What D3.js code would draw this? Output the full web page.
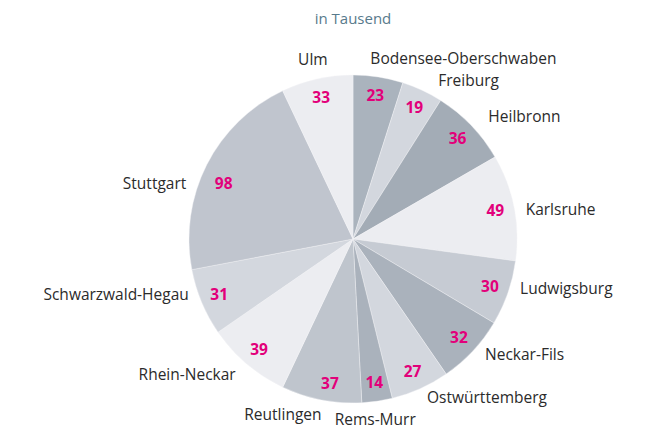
<!DOCTYPE html>
<html>
<head>
<meta charset="utf-8">
<script src="https://cdn.jsdelivr.net/npm/d3@7"></script>
<style>
  body { margin: 0; background: #fff; }
  svg { display: block; }
  text { font-family: "Open Sans", "Noto Sans", sans-serif; }
</style>
</head>
<body>
<svg id="chart" width="652" height="430"></svg>
<script>
// Data (in Tausend), clockwise from the top
var regions = ["Bodensee-Oberschwaben", "Freiburg", "Heilbronn", "Karlsruhe", "Ludwigsburg",
               "Neckar-Fils", "Ostwürttemberg", "Rems-Murr", "Reutlingen", "Rhein-Neckar",
               "Schwarzwald-Hegau", "Stuttgart", "Ulm"];
var values = [23, 19, 36, 49, 30, 32, 27, 14, 37, 39, 31, 98, 33];
var subtitle = "in Tausend";

// Slice fills, same order as regions
var fills = ["#aab3bd", "#d3d7de", "#a3acb6", "#ecedf1", "#c6cbd3", "#aab2bc", "#d3d7de",
             "#aab2bc", "#bfc5cd", "#ecedf1", "#d3d7de", "#c0c5ce", "#ecedf1"];

// Hand placement tweaks for the labels (pixels)
var nameNudge = {
    "Bodensee-Oberschwaben": [-10, -5], "Freiburg": [10, 3], "Heilbronn": [7, 1],
    "Karlsruhe": [-2, 5], "Ludwigsburg": [-1, -9], "Neckar-Fils": [2, -6],
    "Ostwürttemberg": [1, -4], "Rems-Murr": [-4, 5], "Reutlingen": [3, 1],
    "Rhein-Neckar": [-2, 0], "Schwarzwald-Hegau": [0, -13], "Stuttgart": [-8, 25],
    "Ulm": [-1, -6]
};
var centeredNames = {"Ulm": true, "Rems-Murr": true};
var valueNudge = {"Stuttgart": [0, 10], "Reutlingen": [5, 2]};

var cx = 353, cy = 239;
var radius = 164;

var svg = d3.select("#chart");

svg.append("text")
    .attr("x", cx)
    .attr("y", 24)
    .attr("text-anchor", "middle")
    .attr("font-size", "15px")
    .attr("fill", "#587a8c")
    .text(subtitle);

var rows = regions.map(function(name, i) {
    return {name: name, value: values[i], fill: fills[i]};
});

var pie = d3.pie()
    .sort(null)
    .value(function(d) { return d.value; });

var arc = d3.arc().innerRadius(0).outerRadius(radius);
var valueArc = d3.arc().innerRadius(145).outerRadius(145);
var nameArc = d3.arc().innerRadius(178).outerRadius(178);

var arcs = pie(rows);

var g = svg.append("g")
    .attr("transform", "translate(" + cx + "," + cy + ")");

// Slices
g.selectAll("path.slice")
    .data(arcs)
    .enter().append("path")
    .attr("class", "slice")
    .attr("d", arc)
    .attr("fill", function(d) { return d.data.fill; })
    .attr("stroke", "#f4f5f7")
    .attr("stroke-width", 0.4);

// Values inside the slices
g.selectAll("text.value")
    .data(arcs)
    .enter().append("text")
    .attr("class", "value")
    .attr("transform", function(d) {
        var p = valueArc.centroid(d);
        var n = valueNudge[d.data.name] || [0, 0];
        return "translate(" + (p[0] + n[0]) + "," + (p[1] + n[1]) + ")";
    })
    .attr("dy", "0.35em")
    .attr("text-anchor", "middle")
    .attr("font-size", "15.5px")
    .attr("font-weight", "bold")
    .attr("fill", "#e2007a")
    .text(function(d) { return d.data.value; });

// Region names outside
g.selectAll("text.name")
    .data(arcs)
    .enter().append("text")
    .attr("class", "name")
    .attr("transform", function(d) {
        var p = nameArc.centroid(d);
        var n = nameNudge[d.data.name] || [0, 0];
        return "translate(" + (p[0] + n[0]) + "," + (p[1] + n[1]) + ")";
    })
    .attr("dy", "0.35em")
    .attr("text-anchor", function(d) {
        if (centeredNames[d.data.name]) return "middle";
        var mid = (d.startAngle + d.endAngle) / 2;
        return mid < Math.PI ? "start" : "end";
    })
    .attr("font-size", "15.5px")
    .attr("fill", "#2b2b2b")
    .text(function(d) { return d.data.name; });
</script>
</body>
</html>
